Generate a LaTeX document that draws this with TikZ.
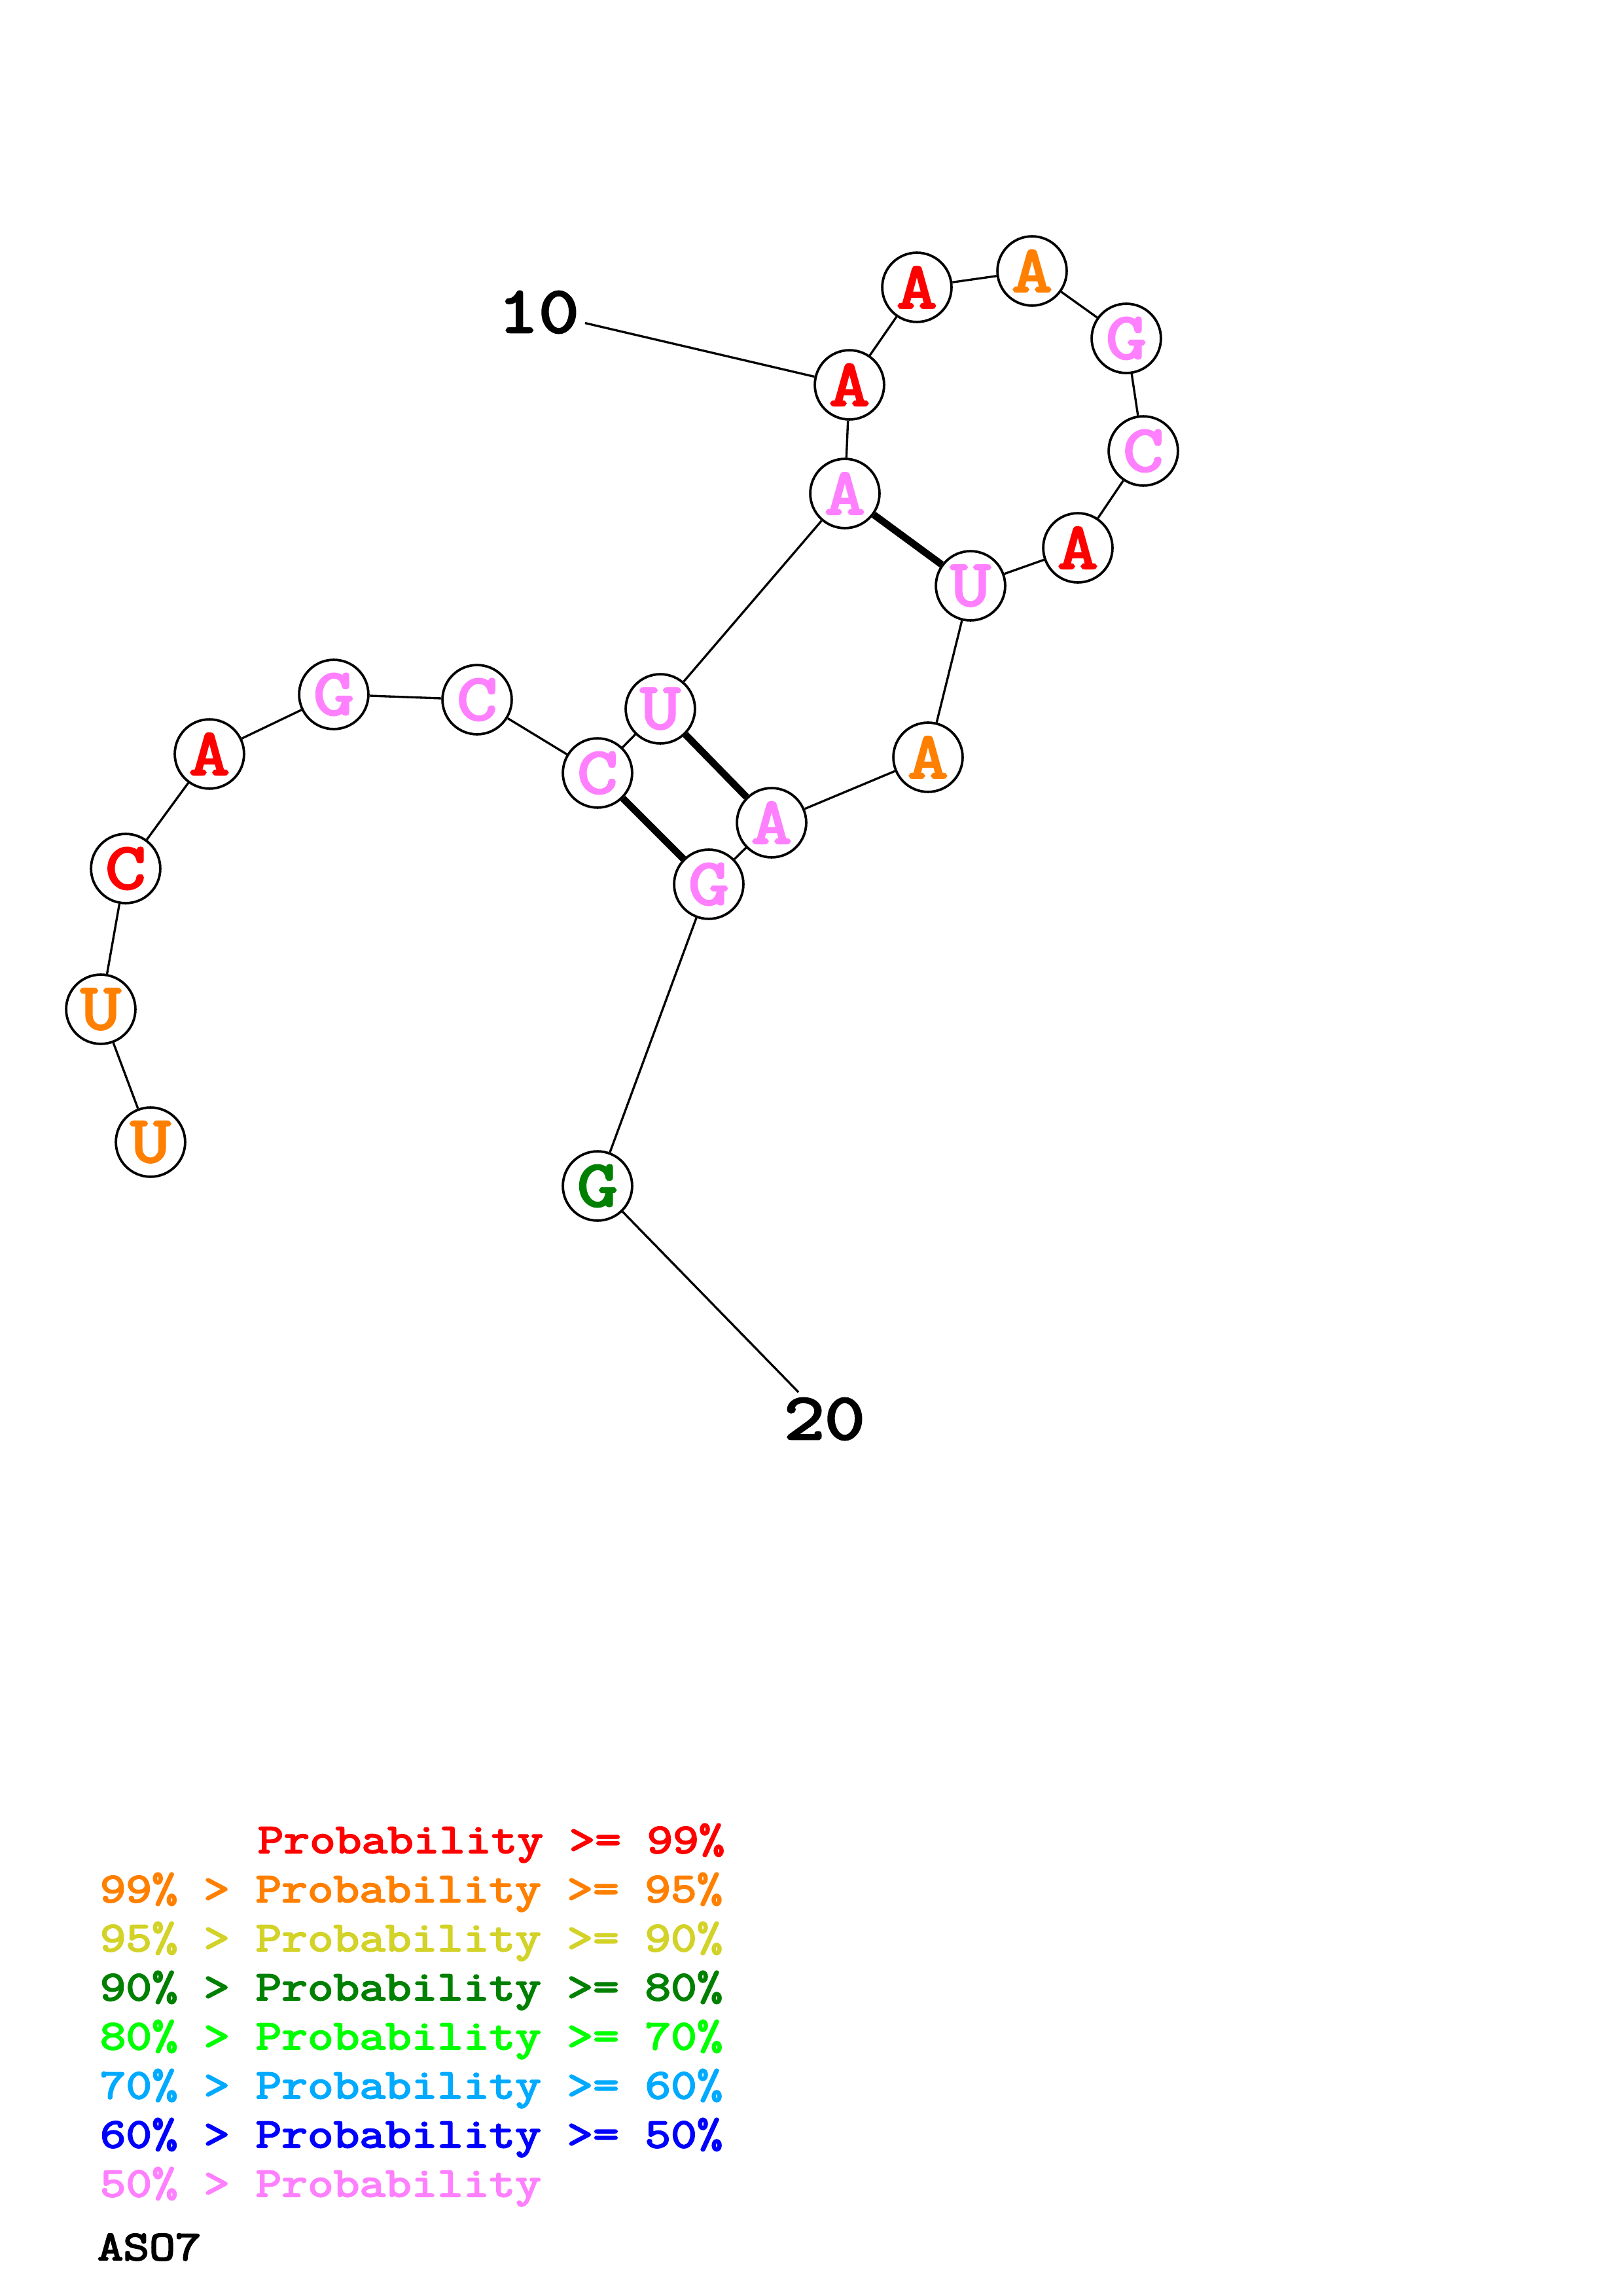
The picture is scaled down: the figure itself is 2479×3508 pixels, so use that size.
\documentclass[tikz,border=0pt]{standalone}
\usepackage{fontspec}
\newfontfamily\cour{Latin Modern Mono}[FakeBold=3.5,FakeStretch=1.2]
\definecolor{pr}{RGB}{255,0,0}
\definecolor{po}{RGB}{255,128,0}
\definecolor{py}{RGB}{210,210,40}
\definecolor{pdg}{RGB}{0,128,0}
\definecolor{pg}{RGB}{0,255,0}
\definecolor{plb}{RGB}{0,170,255}
\definecolor{pb}{RGB}{0,0,255}
\definecolor{pp}{RGB}{255,128,255}
\tikzset{
  base/.style={circle,draw=black,line width=0.9pt,fill=white,minimum size=25.4pt,inner sep=0pt,font=\cour\fontsize{24}{24}\selectfont},
  bb/.style={line width=0.8pt},
  pairl/.style={line width=2.6pt},
  numlab/.style={inner sep=2pt,font=\cour\fontsize{24}{24}\selectfont},
  leg/.style={anchor=base west,inner sep=0pt,font=\cour\fontsize{15.4}{15.4}\selectfont}
}
\begin{document}
\begin{tikzpicture}[x=0.24pt,y=-0.24pt]
\useasboundingbox (0,0) rectangle (2479,3508);
\node[base,text=po]  (n1)  at (230,1745) {U};
\node[base,text=po]  (n2)  at (154,1542) {U};
\node[base,text=pr]  (n3)  at (192,1327) {C};
\node[base,text=pr]  (n4)  at (320,1152) {A};
\node[base,text=pp]  (n5)  at (510,1061) {G};
\node[base,text=pp]  (n6)  at (729,1069) {C};
\node[base,text=pp]  (n7)  at (913,1181) {C};
\node[base,text=pp]  (n8)  at (1009,1083) {U};
\node[base,text=pp]  (n9)  at (1291,754) {A};
\node[base,text=pr]  (n10) at (1298,588) {A};
\node[base,text=pr]  (n11) at (1401,439) {A};
\node[base,text=po]  (n12) at (1577,414) {A};
\node[base,text=pp]  (n13) at (1721,517) {G};
\node[base,text=pp]  (n14) at (1747,689) {C};
\node[base,text=pr]  (n15) at (1647,837) {A};
\node[base,text=pp]  (n16) at (1483,895) {U};
\node[base,text=po]  (n17) at (1418,1157) {A};
\node[base,text=pp]  (n18) at (1179,1257) {A};
\node[base,text=pp]  (n19) at (1083,1351) {G};
\node[base,text=pdg] (n20) at (913,1812) {G};
\node[numlab] (l10) at (823,477) {10};
\node[numlab] (l20) at (1260,2168) {20};
\foreach \a/\b in {n1/n2,n2/n3,n3/n4,n4/n5,n5/n6,n6/n7,n7/n8,n8/n9,n9/n10,n10/n11,n11/n12,n12/n13,n13/n14,n14/n15,n15/n16,n16/n17,n17/n18,n18/n19,n19/n20}
  \draw[bb] (\a) -- (\b);
\draw[pairl] (n7) -- (n19);
\draw[pairl] (n8) -- (n18);
\draw[pairl] (n9) -- (n16);
\draw[bb] (l10) -- (n10);
\draw[bb] (n20) -- (l20);
\node[leg,text=pr]  (g1) at (393,2831) {Probability >= 99\%};
\node[leg,text=po]  (g2) at (152,2906) {99\% > Probability >= 95\%};
\node[leg,text=py]  (g3) at (152,2981) {95\% > Probability >= 90\%};
\node[leg,text=pdg] (g4) at (152,3056) {90\% > Probability >= 80\%};
\node[leg,text=pg]  (g5) at (152,3131) {80\% > Probability >= 70\%};
\node[leg,text=plb] (g6) at (152,3206) {70\% > Probability >= 60\%};
\node[leg,text=pb]  (g7) at (152,3281) {60\% > Probability >= 50\%};
\node[leg,text=pp]  (g8) at (152,3356) {50\% > Probability};
\node[leg,text=black] (g9) at (148,3453) {ASO7};
\end{tikzpicture}
\end{document}
